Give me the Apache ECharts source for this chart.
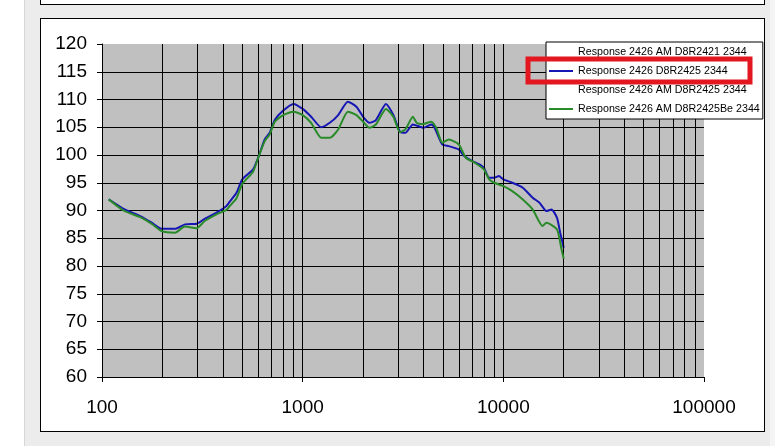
<!DOCTYPE html>
<html>
<head>
<meta charset="utf-8">
<script src="https://cdn.jsdelivr.net/npm/echarts@6/dist/echarts.min.js"></script>
<style>
  html, body { margin: 0; padding: 0; }
  body { width: 775px; height: 446px; background: #ececec; position: relative; overflow: hidden; }
  #lw { position: absolute; left: 0; top: 0; width: 24px; height: 446px; background: #fff; border-right: 1px solid #d6d6d6; }
  #rs { position: absolute; left: 770px; top: 0; width: 5px; height: 446px; background: #f4f4f4; }
  #topbox { position: absolute; left: 40px; top: -10px; width: 725px; height: 15px; box-sizing: border-box; background: #fff; border: 1px solid #000; }
  #box { position: absolute; left: 40px; top: 18px; width: 725px; height: 414px; box-sizing: border-box; background: #fff; border: 1px solid #000; }
  #chart { position: absolute; left: 0; top: 0; width: 775px; height: 446px; }
</style>
</head>
<body>
<div id="lw"></div>
<div id="rs"></div>
<div id="topbox"></div>
<div id="box"></div>
<div id="chart"></div>
<script>
// ---- data ----
var seriesNames = [
  'Response 2426 AM D8R2421 2344',
  'Response 2426 D8R2425 2344',
  'Response 2426 AM D8R2425 2344',
  'Response 2426 AM D8R2425Be 2344'
];
var blueFreq = [108, 128, 155, 177, 198, 231, 259, 296, 325, 372, 417, 433, 468, 500, 566, 600, 647, 685, 726, 800, 900, 1000, 1102, 1237, 1365, 1503, 1680, 1852, 2000, 2150, 2317, 2600, 2830, 3056, 3250, 3540, 4000, 4370, 4520, 4965, 5350, 6000, 6380, 7000, 7600, 8000, 8500, 9000, 9500, 10000, 11080, 12500, 14000, 15150, 16390, 17380, 18500, 19200, 20000];
var blueVal  = [92.0, 90.3, 89.0, 87.8, 86.7, 86.7, 87.5, 87.6, 88.5, 89.6, 90.8, 91.6, 93.2, 95.6, 97.4, 99.5, 102.8, 104.0, 106.3, 108.0, 109.2, 108.3, 106.9, 105.0, 105.8, 107.2, 109.6, 108.7, 106.9, 105.8, 106.3, 109.2, 107.2, 104.2, 104.0, 105.5, 104.9, 105.5, 105.1, 101.9, 101.6, 101.0, 99.8, 98.9, 98.3, 97.7, 95.9, 95.9, 96.2, 95.6, 95.0, 94.1, 92.3, 91.4, 89.9, 90.2, 88.7, 86.0, 83.3];
var greenFreq = [108, 128, 155, 177, 198, 231, 259, 296, 325, 372, 417, 433, 468, 500, 566, 600, 647, 685, 726, 800, 900, 1000, 1102, 1237, 1365, 1503, 1680, 1852, 2000, 2150, 2317, 2600, 2830, 3056, 3250, 3540, 3700, 4000, 4370, 4630, 4965, 5350, 6000, 6500, 7200, 8000, 8500, 9000, 10000, 11080, 12500, 14000, 15690, 16390, 18500, 19500, 20000];
var greenVal  = [92.0, 90.0, 88.8, 87.6, 86.3, 86.0, 87.1, 86.8, 88.1, 89.3, 90.1, 90.8, 92.2, 94.8, 97.0, 99.5, 102.5, 103.7, 106.0, 107.2, 107.8, 107.2, 105.8, 103.1, 103.1, 104.6, 107.8, 107.2, 106.0, 104.9, 105.5, 108.3, 106.9, 104.1, 104.6, 106.9, 105.8, 105.6, 106.0, 104.9, 102.2, 102.8, 101.9, 99.5, 98.6, 97.4, 95.6, 95.0, 94.4, 93.5, 92.0, 90.2, 87.2, 87.8, 86.6, 83.0, 81.3];
var xTickLabels = ['100', '1000', '10000', '100000'];
var yMin = 60, yMax = 120, yStep = 5;
var xMin = 100, xMax = 100000;
var minorGridFreq = [200, 300, 400, 500, 600, 700, 800, 900, 1000, 2000, 3000, 4000, 5000, 6000, 7000, 8000, 9000, 10000, 20000, 30000, 40000, 50000, 60000, 70000, 80000, 90000];

function pairs(f, v) { return f.map(function (x, i) { return [x, v[i]]; }); }

var FONT = "'Liberation Sans', Arial, sans-serif";
var nSplit = (yMax - yMin) / yStep + 1;
var splitColors = [];
for (var i = 0; i < nSplit; i++) splitColors.push(i === nSplit - 1 ? 'rgba(0,0,0,0)' : '#000');

var chart = echarts.init(document.getElementById('chart'), null, { renderer: 'canvas' });
chart.setOption({
  animation: false,
  backgroundColor: 'transparent',
  grid: { left: 102, top: 44, right: 71, bottom: 69, show: true, backgroundColor: '#c0c0c0', borderWidth: 0 },
  xAxis: {
    type: 'log', logBase: 10, min: xMin, max: xMax,
    axisLine: { show: true, lineStyle: { color: '#000', width: 1 } },
    axisTick: { show: true, length: 5, lineStyle: { color: '#000' } },
    axisLabel: {
      margin: 21, color: '#000', fontSize: 19, fontFamily: FONT,
      formatter: function (v) { var i = Math.round(Math.log10(v / xMin)); return xTickLabels[i] || String(v); }
    },
    splitLine: { show: false }
  },
  yAxis: {
    type: 'value', min: yMin, max: yMax, interval: yStep,
    axisLine: { show: true, lineStyle: { color: '#000', width: 1 } },
    axisTick: { show: true, length: 5, lineStyle: { color: '#000' } },
    axisLabel: { margin: 15, color: '#000', fontSize: 19, fontFamily: FONT },
    splitLine: { show: true, lineStyle: { color: splitColors, width: 1 } }
  },
  legend: {
    orient: 'vertical', left: 546, top: 42, z: 50, zlevel: 1,
    backgroundColor: '#fff', borderColor: '#000', borderWidth: 1, borderRadius: 0,
    padding: [4, 3, 4, 3],
    icon: 'rect', itemWidth: 24, itemHeight: 2, itemGap: 7,
    textStyle: { fontSize: 10.7, fontFamily: FONT, color: '#000', lineHeight: 12 },
    selectedMode: false,
    data: seriesNames
  },
  graphic: [{
    type: 'rect', z: 100, zlevel: 2, silent: true,
    shape: { x: 528, y: 59, width: 222, height: 23 },
    style: { fill: 'none', stroke: '#e3171f', lineWidth: 5 }
  }],
  series: [
    {
      name: '_grid', type: 'line', z: 1, data: [[xMin, yMin]], symbol: 'none',
      lineStyle: { opacity: 0 }, silent: true,
      markLine: {
        silent: true, symbol: ['none', 'none'], label: { show: false },
        lineStyle: { color: '#000', width: 1, type: 'solid' },
        emphasis: { disabled: true },
        data: minorGridFreq.map(function (f) { return { xAxis: f }; })
      }
    },
    { name: seriesNames[0], type: 'line', z: 3, data: [], color: 'rgba(0,0,0,0)', symbol: 'none', lineStyle: { width: 2, color: 'rgba(0,0,0,0)' } },
    { name: seriesNames[1], type: 'line', z: 4, data: pairs(blueFreq, blueVal), color: '#1616b4', symbol: 'none', smooth: 0.2, lineStyle: { width: 2, color: '#1616b4' } },
    { name: seriesNames[2], type: 'line', z: 3, data: [], color: 'rgba(0,0,0,0)', symbol: 'none', lineStyle: { width: 2, color: 'rgba(0,0,0,0)' } },
    { name: seriesNames[3], type: 'line', z: 5, data: pairs(greenFreq, greenVal), color: '#288a28', symbol: 'none', smooth: 0.2, lineStyle: { width: 2, color: '#288a28' } }
  ]
});
</script>
</body>
</html>
